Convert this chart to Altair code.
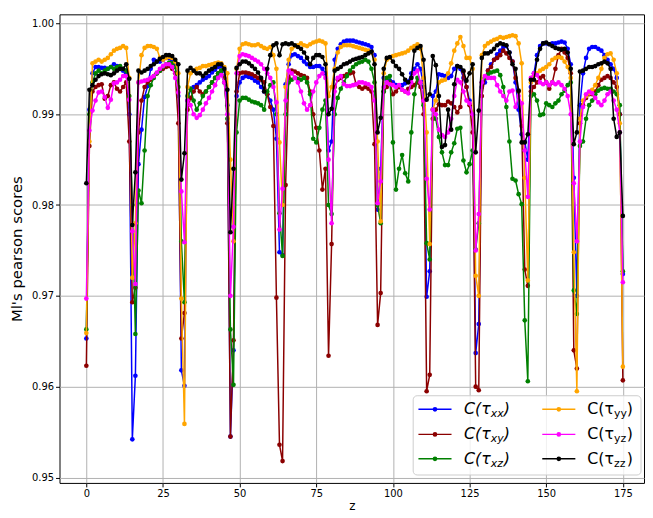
import altair as alt
import pandas as pd

z = list(range(176))

tau_xx = [
    0.9653, 0.9905, 0.9945, 0.9952, 0.9952, 0.9951, 0.9951, 0.9950, 0.9952, 0.9955, 0.9953, 0.9950, 0.9948, 0.9945, 0.9900, 0.9542, 0.9612,
    0.9845, 0.9883, 0.9919, 0.9931, 0.9950, 0.9960, 0.9958, 0.9958, 0.9960, 0.9962, 0.9962, 0.9960, 0.9955, 0.9920, 0.9618, 0.9601,
    0.9915, 0.9928, 0.9930, 0.9932, 0.9935, 0.9938, 0.9940, 0.9942, 0.9946, 0.9949, 0.9952, 0.9953, 0.9948, 0.9910, 0.9545, 0.9640,
    0.9920, 0.9935, 0.9940, 0.9942, 0.9941, 0.9940, 0.9937, 0.9935, 0.9930, 0.9925, 0.9922, 0.9915, 0.9905, 0.9873, 0.9748, 0.9745,
    0.9933, 0.9955, 0.9965, 0.9966, 0.9964, 0.9962, 0.9958, 0.9955, 0.9952, 0.9952, 0.9953, 0.9953, 0.9950, 0.9945, 0.9860, 0.9870,
    0.9960, 0.9972, 0.9977, 0.9980, 0.9981, 0.9981, 0.9981, 0.9980, 0.9979, 0.9978, 0.9977, 0.9976, 0.9974, 0.9965, 0.9795, 0.9840,
    0.9940, 0.9935, 0.9937, 0.9935, 0.9932, 0.9930, 0.9932, 0.9934, 0.9936, 0.9945, 0.9950, 0.9955, 0.9950, 0.9930, 0.9699, 0.9727,
    0.9920, 0.9925, 0.9944, 0.9943, 0.9942, 0.9940, 0.9942, 0.9950, 0.9953, 0.9950, 0.9940, 0.9930, 0.9915, 0.9900, 0.9637, 0.9669,
    0.9930, 0.9935, 0.9948, 0.9955, 0.9960, 0.9966, 0.9970, 0.9974, 0.9975, 0.9968, 0.9958, 0.9935, 0.9905, 0.9878, 0.9870, 0.9850,
    0.9930, 0.9945, 0.9965, 0.9975, 0.9978, 0.9978, 0.9977, 0.9978, 0.9978, 0.9979, 0.9980, 0.9979, 0.9972, 0.9955, 0.9830, 0.9700,
    0.9910, 0.9945, 0.9962, 0.9972, 0.9974, 0.9974, 0.9972, 0.9970, 0.9965, 0.9960, 0.9955, 0.9950, 0.9940, 0.9900, 0.9724,
]

tau_xy = [
    0.9623, 0.9865, 0.9925, 0.9930, 0.9932, 0.9933, 0.9917, 0.9920, 0.9932, 0.9935, 0.9928, 0.9925, 0.9930, 0.9935, 0.9870, 0.9693, 0.9709,
    0.9880, 0.9915, 0.9930, 0.9935, 0.9938, 0.9942, 0.9945, 0.9948, 0.9950, 0.9952, 0.9953, 0.9950, 0.9945, 0.9890, 0.9653, 0.9681,
    0.9905, 0.9918, 0.9925, 0.9930, 0.9925, 0.9922, 0.9925, 0.9930, 0.9935, 0.9940, 0.9945, 0.9948, 0.9940, 0.9890, 0.9545, 0.9651,
    0.9925, 0.9945, 0.9946, 0.9946, 0.9945, 0.9944, 0.9942, 0.9940, 0.9938, 0.9935, 0.9922, 0.9908, 0.9887, 0.9698, 0.9536, 0.9518,
    0.9822, 0.9940, 0.9948, 0.9947, 0.9945, 0.9943, 0.9942, 0.9940, 0.9925, 0.9900, 0.9885, 0.9860, 0.9817, 0.9840, 0.9634, 0.9757,
    0.9930, 0.9938, 0.9940, 0.9942, 0.9944, 0.9945, 0.9946, 0.9933, 0.9930, 0.9928, 0.9930, 0.9928, 0.9925, 0.9867, 0.9668, 0.9703,
    0.9925, 0.9930, 0.9935, 0.9922, 0.9925, 0.9930, 0.9927, 0.9925, 0.9928, 0.9930, 0.9932, 0.9935, 0.9930, 0.9900, 0.9595, 0.9613,
    0.9895, 0.9905, 0.9911, 0.9910, 0.9910, 0.9914, 0.9912, 0.9908, 0.9902, 0.9908, 0.9947, 0.9930, 0.9910, 0.9880, 0.9600, 0.9596,
    0.9920, 0.9940, 0.9948, 0.9952, 0.9960, 0.9962, 0.9965, 0.9970, 0.9967, 0.9962, 0.9958, 0.9940, 0.9925, 0.9887, 0.9729, 0.9711,
    0.9925, 0.9930, 0.9935, 0.9940, 0.9942, 0.9935, 0.9928, 0.9935, 0.9950, 0.9965, 0.9972, 0.9968, 0.9962, 0.9945, 0.9640, 0.9620,
    0.9890, 0.9910, 0.9918, 0.9922, 0.9922, 0.9925, 0.9932, 0.9938, 0.9940, 0.9942, 0.9940, 0.9935, 0.9930, 0.9900, 0.9607,
]

tau_xz = [
    0.9663, 0.9900, 0.9935, 0.9945, 0.9948, 0.9945, 0.9948, 0.9950, 0.9952, 0.9950, 0.9952, 0.9953, 0.9950, 0.9948, 0.9920, 0.9800, 0.9658,
    0.9816, 0.9802, 0.9860, 0.9920, 0.9932, 0.9940, 0.9945, 0.9948, 0.9952, 0.9955, 0.9957, 0.9956, 0.9952, 0.9930, 0.9760, 0.9693,
    0.9920, 0.9928, 0.9915, 0.9905, 0.9912, 0.9920, 0.9925, 0.9930, 0.9935, 0.9940, 0.9945, 0.9948, 0.9935, 0.9895, 0.9663, 0.9602,
    0.9880, 0.9915, 0.9918, 0.9918, 0.9916, 0.9914, 0.9913, 0.9912, 0.9910, 0.9905, 0.9925, 0.9932, 0.9935, 0.9900, 0.9791, 0.9744,
    0.9900, 0.9935, 0.9938, 0.9940, 0.9939, 0.9938, 0.9940, 0.9935, 0.9922, 0.9873, 0.9869, 0.9885, 0.9905, 0.9915, 0.9800, 0.9790,
    0.9900, 0.9918, 0.9928, 0.9935, 0.9942, 0.9948, 0.9952, 0.9955, 0.9957, 0.9958, 0.9960, 0.9958, 0.9950, 0.9935, 0.9800, 0.9780,
    0.9925, 0.9940, 0.9942, 0.9869, 0.9817, 0.9840, 0.9855, 0.9835, 0.9826, 0.9880, 0.9922, 0.9940, 0.9935, 0.9910, 0.9758, 0.9740,
    0.9905, 0.9895, 0.9875, 0.9858, 0.9844, 0.9844, 0.9858, 0.9868, 0.9884, 0.9885, 0.9849, 0.9836, 0.9845, 0.9860, 0.9751, 0.9780,
    0.9935, 0.9940, 0.9944, 0.9946, 0.9947, 0.9948, 0.9943, 0.9930, 0.9908, 0.9870, 0.9829, 0.9827, 0.9812, 0.9801, 0.9673, 0.9606,
    0.9920, 0.9922, 0.9915, 0.9899, 0.9900, 0.9912, 0.9910, 0.9908, 0.9912, 0.9915, 0.9922, 0.9926, 0.9932, 0.9935, 0.9706, 0.9680,
    0.9865, 0.9870, 0.9895, 0.9910, 0.9915, 0.9922, 0.9926, 0.9928, 0.9929, 0.9928, 0.9928, 0.9925, 0.9922, 0.9910, 0.9727,
]

tau_yy = [
    0.9659, 0.9870, 0.9956, 0.9958, 0.9960, 0.9958, 0.9960, 0.9962, 0.9966, 0.9970, 0.9972, 0.9973, 0.9975, 0.9973, 0.9940, 0.9720, 0.9780,
    0.9935, 0.9965, 0.9973, 0.9975, 0.9975, 0.9974, 0.9972, 0.9962, 0.9960, 0.9962, 0.9963, 0.9962, 0.9958, 0.9945, 0.9697, 0.9559,
    0.9930, 0.9945, 0.9948, 0.9950, 0.9951, 0.9953, 0.9953, 0.9954, 0.9955, 0.9956, 0.9957, 0.9956, 0.9952, 0.9945, 0.9850, 0.9760,
    0.9950, 0.9972, 0.9977, 0.9978, 0.9977, 0.9976, 0.9976, 0.9977, 0.9975, 0.9973, 0.9972, 0.9974, 0.9965, 0.9950, 0.9869, 0.9800,
    0.9930, 0.9960, 0.9972, 0.9975, 0.9976, 0.9978, 0.9976, 0.9975, 0.9977, 0.9979, 0.9980, 0.9981, 0.9980, 0.9978, 0.9920, 0.9930,
    0.9950, 0.9968, 0.9974, 0.9976, 0.9976, 0.9976, 0.9975, 0.9974, 0.9973, 0.9972, 0.9971, 0.9970, 0.9968, 0.9960, 0.9870, 0.9782,
    0.9945, 0.9960, 0.9962, 0.9964, 0.9965, 0.9966, 0.9967, 0.9968, 0.9970, 0.9973, 0.9975, 0.9977, 0.9972, 0.9940, 0.9880, 0.9757,
    0.9905, 0.9915, 0.9935, 0.9937, 0.9938, 0.9945, 0.9956, 0.9970, 0.9978, 0.9985, 0.9975, 0.9962, 0.9962, 0.9950, 0.9722, 0.9700,
    0.9965, 0.9975, 0.9978, 0.9980, 0.9982, 0.9983, 0.9985, 0.9984, 0.9985, 0.9986, 0.9987, 0.9986, 0.9978, 0.9956, 0.9830, 0.9717,
    0.9935, 0.9943, 0.9945, 0.9948, 0.9950, 0.9952, 0.9955, 0.9960, 0.9962, 0.9963, 0.9962, 0.9958, 0.9952, 0.9940, 0.9748, 0.9595,
    0.9895, 0.9915, 0.9920, 0.9923, 0.9927, 0.9932, 0.9940, 0.9950, 0.9962, 0.9966, 0.9967, 0.9960, 0.9945, 0.9890, 0.9622,
]

tau_yz = [
    0.9697, 0.9882, 0.9904, 0.9915, 0.9924, 0.9925, 0.9919, 0.9907, 0.9916, 0.9934, 0.9935, 0.9938, 0.9942, 0.9942, 0.9916, 0.9771, 0.9713,
    0.9935, 0.9936, 0.9937, 0.9938, 0.9940, 0.9942, 0.9946, 0.9950, 0.9953, 0.9955, 0.9955, 0.9952, 0.9940, 0.9924, 0.9815, 0.9759,
    0.9915, 0.9910, 0.9900, 0.9896, 0.9899, 0.9905, 0.9912, 0.9918, 0.9925, 0.9932, 0.9940, 0.9943, 0.9935, 0.9900, 0.9700, 0.9776,
    0.9945, 0.9964, 0.9966, 0.9965, 0.9964, 0.9962, 0.9960, 0.9958, 0.9955, 0.9950, 0.9945, 0.9940, 0.9930, 0.9913, 0.9773, 0.9818,
    0.9915, 0.9948, 0.9945, 0.9940, 0.9935, 0.9925, 0.9912, 0.9905, 0.9910, 0.9925, 0.9935, 0.9942, 0.9945, 0.9940, 0.9850, 0.9780,
    0.9925, 0.9940, 0.9942, 0.9933, 0.9931, 0.9931, 0.9932, 0.9933, 0.9935, 0.9935, 0.9934, 0.9933, 0.9930, 0.9915, 0.9802, 0.9826,
    0.9930, 0.9935, 0.9933, 0.9932, 0.9930, 0.9932, 0.9927, 0.9925, 0.9923, 0.9935, 0.9945, 0.9948, 0.9935, 0.9915, 0.9829, 0.9795,
    0.9905, 0.9900, 0.9883, 0.9877, 0.9875, 0.9880, 0.9895, 0.9920, 0.9938, 0.9935, 0.9925, 0.9915, 0.9912, 0.9900, 0.9750, 0.9790,
    0.9935, 0.9942, 0.9940, 0.9940, 0.9940, 0.9932, 0.9925, 0.9920, 0.9915, 0.9925, 0.9926, 0.9908, 0.9920, 0.9912, 0.9860, 0.9809,
    0.9940, 0.9945, 0.9943, 0.9935, 0.9933, 0.9935, 0.9932, 0.9935, 0.9933, 0.9935, 0.9932, 0.9928, 0.9920, 0.9900, 0.9824, 0.9760,
    0.9870, 0.9908, 0.9922, 0.9925, 0.9923, 0.9918, 0.9913, 0.9910, 0.9915, 0.9922, 0.9925, 0.9915, 0.9905, 0.9880, 0.9715,
]

tau_zz = [
    0.9824, 0.9927, 0.9932, 0.9938, 0.9942, 0.9944, 0.9945, 0.9944, 0.9943, 0.9945, 0.9948, 0.9950, 0.9950, 0.9955, 0.9939, 0.9778, 0.9836,
    0.9948, 0.9946, 0.9948, 0.9950, 0.9953, 0.9955, 0.9958, 0.9961, 0.9963, 0.9965, 0.9965, 0.9964, 0.9960, 0.9955, 0.9828, 0.9857,
    0.9948, 0.9951, 0.9948, 0.9945, 0.9945, 0.9942, 0.9945, 0.9948, 0.9950, 0.9952, 0.9955, 0.9955, 0.9950, 0.9927, 0.9770, 0.9840,
    0.9951, 0.9955, 0.9958, 0.9958, 0.9956, 0.9953, 0.9950, 0.9946, 0.9940, 0.9925, 0.9950, 0.9965, 0.9976, 0.9978, 0.9965, 0.9977,
    0.9978, 0.9977, 0.9978, 0.9976, 0.9974, 0.9972, 0.9968, 0.9962, 0.9955, 0.9962, 0.9965, 0.9965, 0.9963, 0.9955, 0.9900, 0.9906,
    0.9948, 0.9950, 0.9952, 0.9955, 0.9956, 0.9958, 0.9960, 0.9961, 0.9962, 0.9963, 0.9965, 0.9967, 0.9969, 0.9955, 0.9880, 0.9896,
    0.9950, 0.9962, 0.9963, 0.9958, 0.9953, 0.9950, 0.9944, 0.9938, 0.9935, 0.9940, 0.9970, 0.9973, 0.9975, 0.9960, 0.9916, 0.9922,
    0.9964, 0.9954, 0.9920, 0.9864, 0.9866, 0.9905, 0.9883, 0.9933, 0.9953, 0.9952, 0.9948, 0.9937, 0.9945, 0.9955, 0.9858, 0.9904,
    0.9962, 0.9967, 0.9967, 0.9969, 0.9972, 0.9976, 0.9978, 0.9977, 0.9976, 0.9968, 0.9955, 0.9950, 0.9926, 0.9869, 0.9869, 0.9878,
    0.9938, 0.9938, 0.9960, 0.9972, 0.9978, 0.9979, 0.9977, 0.9975, 0.9973, 0.9972, 0.9971, 0.9972, 0.9968, 0.9950, 0.9867, 0.9880,
    0.9947, 0.9948, 0.9950, 0.9952, 0.9952, 0.9953, 0.9955, 0.9956, 0.9958, 0.9956, 0.9950, 0.9895, 0.9875, 0.9880, 0.9788,
]

x_ticks = [0, 25, 50, 75, 100, 125, 150, 175]
y_ticks = [0.95, 0.96, 0.97, 0.98, 0.99, 1.00]

series_keys = ["xx", "xy", "xz", "yy", "yz", "zz"]
series_vals = [tau_xx, tau_xy, tau_xz, tau_yy, tau_yz, tau_zz]
series_colors = ["#0000ff", "#8b0000", "#008000", "#ffa500", "#ff00ff", "#000000"]

FONT = "DejaVu Sans"
W, H = 590, 473

x_scale = alt.Scale(domain=[-8.75, 181.9], nice=False, zero=False)
y_scale = alt.Scale(domain=[0.9494, 1.0010], nice=False, zero=False)
x_axis = alt.Axis(values=x_ticks, title="z", format="d", grid=True)
y_axis = alt.Axis(values=y_ticks, title="Ml's pearson scores", format=".2f", grid=True)

layers = []
for key, vals, color in zip(series_keys, series_vals, series_colors):
    df = pd.DataFrame({"z": z, "score": vals})
    base = alt.Chart(df).encode(
        x=alt.X("z:Q", scale=x_scale, axis=x_axis),
        y=alt.Y("score:Q", scale=y_scale, axis=y_axis),
    )
    layers.append(base.mark_line(color=color, strokeWidth=1.5, clip=True))
    layers.append(base.mark_circle(color=color, size=22, opacity=1, clip=True))

# custom legend (matplotlib-style, with subscripts)
dummy = pd.DataFrame({"a": [0]})
leg = [
    alt.Chart(dummy).mark_rect(fill="white", fillOpacity=0.8, stroke="#cccccc",
                               strokeWidth=1, cornerRadius=4).encode(
        x=alt.value(357), x2=alt.value(587), y=alt.value(385), y2=alt.value(465))
]
row_y = [398.7, 424.0, 448.7]
col_x = [(362.3, 395.7, 408.3), (487.3, 520.7, 532.7)]
for i, (key, color) in enumerate(zip(series_keys, series_colors)):
    c, r = i // 3, i % 3
    x1, x2, tx = col_x[c]
    y = row_y[r]
    style = "italic" if c == 0 else "normal"
    leg.append(alt.Chart(dummy).mark_rule(color=color, strokeWidth=1.5).encode(
        x=alt.value(x1), x2=alt.value(x2), y=alt.value(y)))
    leg.append(alt.Chart(dummy).mark_circle(color=color, size=22, opacity=1).encode(
        x=alt.value((x1 + x2) / 2), y=alt.value(y)))
    leg.append(alt.Chart(dummy).mark_text(text="C(τ", font=FONT, fontSize=16, fontStyle=style,
                                          align="left", baseline="middle", color="black").encode(
        x=alt.value(tx), y=alt.value(y)))
    leg.append(alt.Chart(dummy).mark_text(text=key, font=FONT, fontSize=11, fontStyle=style,
                                          align="left", baseline="middle", color="black").encode(
        x=alt.value(tx + 27), y=alt.value(y + 5)))
    leg.append(alt.Chart(dummy).mark_text(text=")", font=FONT, fontSize=16, fontStyle=style,
                                          align="left", baseline="middle", color="black").encode(
        x=alt.value(tx + 40), y=alt.value(y)))

chart = alt.layer(*layers, *leg).properties(
    width=W, height=H,
    autosize=alt.AutoSizeParams(type="none"),
    padding={"left": 52, "top": 4, "right": 1, "bottom": 31},
).configure_view(
    stroke="black", strokeWidth=1
).configure_axis(
    labelFont=FONT, titleFont=FONT, labelFontSize=10, labelColor="black",
    titleColor="black", titleFontWeight="normal",
    domain=False, tickColor="black", tickSize=4, tickWidth=1,
    gridColor="#b0b0b0", gridWidth=1, gridOpacity=1, labelPadding=2,
).configure_axisX(
    titleFontSize=12, titlePadding=2, labelPadding=2,
).configure_axisY(
    titleFontSize=15, titlePadding=7,
)

chart.save("out.html", embed_options={"renderer": "svg", "actions": False})
